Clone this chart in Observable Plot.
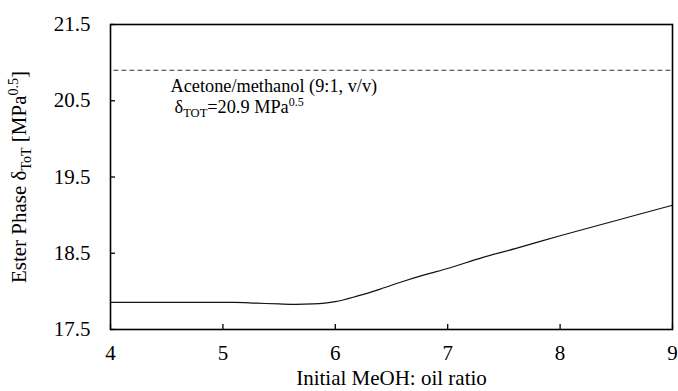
<!DOCTYPE html>
<html><head><meta charset="utf-8">
<script src="https://cdn.jsdelivr.net/npm/d3@7"></script>
<script src="https://cdn.jsdelivr.net/npm/@observablehq/plot@0.6"></script>
<style>body{margin:0;background:#fff} svg, svg text{font-family:"Liberation Serif","Times New Roman",serif !important;}</style></head>
<body><div id="chart"></div>
<script>
const ratio = [4, 4.5, 5, 5.1, 5.3, 5.5, 5.65, 5.8, 6, 6.2, 6.4, 6.6, 6.8, 7, 7.3, 7.6, 8, 8.5, 9];
const delta = [17.855, 17.855, 17.855, 17.855, 17.845, 17.835, 17.83, 17.835, 17.865, 17.94, 18.03, 18.13, 18.22, 18.30, 18.44, 18.56, 18.73, 18.93, 19.13];
const xTicks = [4, 5, 6, 7, 8, 9];
const yTicks = [17.5, 18.5, 19.5, 20.5, 21.5];
const solventDelta = [20.9];
const annLine1 = ["Acetone/methanol (9:1, v/v)"];

const data = ratio.map((r, i) => ({r, d: delta[i]}));

const chart = Plot.plot({
  width: 678, height: 391,
  marginLeft: 110, marginRight: 6, marginTop: 24, marginBottom: 62,
  style: {fontSize: "21px", color: "#000", background: "#fff"},
  x: {domain: [4, 9]},
  y: {domain: [17.5, 21.5]},
  marks: [
    Plot.axisX({ticks: xTicks, tickSize: -5, tickPadding: 21, tickFormat: d => String(d), label: null, fontSize: 21, strokeWidth: 1.3}),
    Plot.axisY({ticks: yTicks, tickSize: -5, tickPadding: 25, tickFormat: d3.format(".1f"), label: null, fontSize: 21, strokeWidth: 1.3}),
    Plot.ruleY(solventDelta, {stroke: "#333", strokeWidth: 1.2, strokeDasharray: "5,3", x1: 4.03, x2: 9}),
    Plot.line(data, {x: "r", y: "d", stroke: "#111", strokeWidth: 1.2, curve: "monotone-x"}),
    Plot.frame({stroke: "#000", strokeWidth: 1.6}),
    Plot.text(annLine1, {x: 4.534, y: 20.69, text: d => d, textAnchor: "start", fontSize: 18.3}),
    Plot.text(["ann2"], {x: 4.57, y: 20.41, text: d => d, textAnchor: "start", fontSize: 18.3, className: "ann2"}),
    Plot.text(["Initial MeOH: oil ratio"], {frameAnchor: "bottom", dy: 49, text: d => d, fontSize: 21, lineAnchor: "middle"}),
    Plot.text(["ylab"], {frameAnchor: "left", dx: -91, rotate: -90, textAnchor: "middle", text: d => d, fontSize: 21, className: "ylab"})
  ]
});

d3.select(chart).select("g.ann2 text").html(
  '<tspan>δ</tspan><tspan dy="4" font-size="12.5">TOT</tspan><tspan dy="-4">=20.9 MPa</tspan><tspan dy="-7" font-size="12">0.5</tspan>'
);
d3.select(chart).select("g.ylab text").html(
  '<tspan>Ester Phase δ</tspan><tspan dy="5" font-size="14">ToT</tspan><tspan dy="-5"> [MPa</tspan><tspan dy="-8" font-size="14">0.5</tspan><tspan dy="8">]</tspan>'
);
document.getElementById("chart").appendChild(chart);
</script>
</body></html>
